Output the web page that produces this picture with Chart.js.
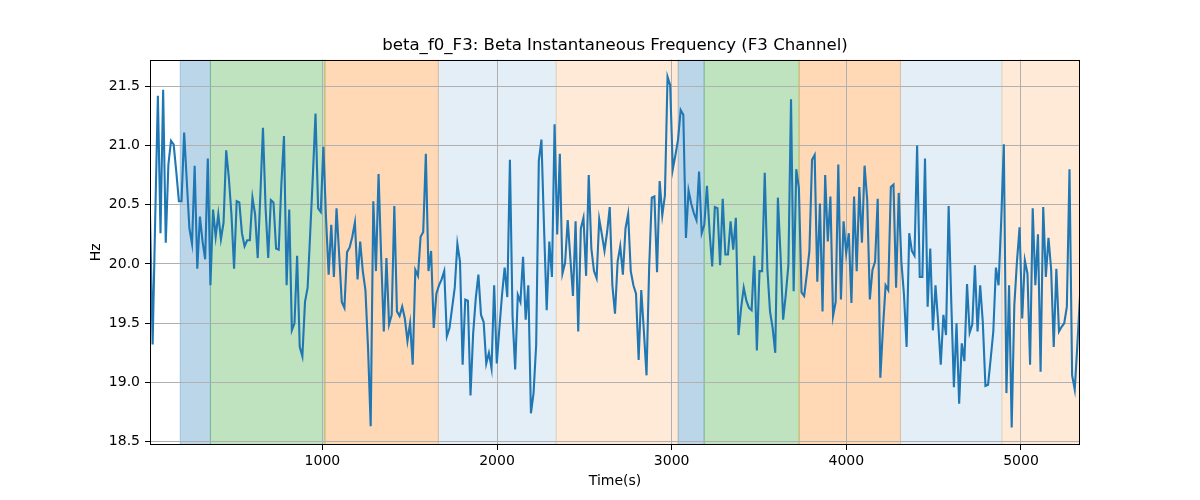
<!DOCTYPE html>
<html>
<head>
<meta charset="utf-8">
<script src="https://cdn.jsdelivr.net/npm/chart.js@4.4.1/dist/chart.umd.min.js"></script>
<style>
    html, body { margin: 0; padding: 0; background: #fff; }
    #wrap { width: 1200px; height: 500px; }
</style>
</head>
<body>
<div id="wrap"><canvas id="chart" width="1200" height="500"></canvas></div>
<script>
// ---- data ----
const tStart = 13;
const tEnd = 5338;

const hzValues = [
    20.42, 19.32, 20.40, 21.42, 20.26, 21.47, 20.18, 20.84, 21.04, 21.01, 20.78, 20.53, 20.53, 21.11, 20.70, 20.30, 20.17, 20.83,
    19.96, 20.40, 20.19, 20.04, 20.89, 19.82, 20.46, 20.23, 20.42, 20.21, 20.35, 20.96, 20.73, 20.42, 19.96, 20.53, 20.52, 20.26,
    20.15, 20.20, 20.20, 20.56, 20.42, 20.05, 20.58, 21.15, 20.47, 20.05, 20.54, 20.52, 20.13, 20.12, 20.67, 21.08, 19.82, 20.46,
    19.44, 19.50, 20.07, 19.30, 19.22, 19.68, 19.80, 20.27, 20.75, 21.27, 20.47, 20.44, 20.99, 20.39, 19.91, 20.33, 19.89, 20.47,
    20.08, 19.68, 19.63, 20.10, 20.14, 20.23, 20.35, 19.87, 20.19, 19.94, 19.78, 19.29, 18.63, 20.53, 19.94, 20.76, 20.05, 19.43,
    20.05, 19.49, 19.57, 20.49, 19.60, 19.56, 19.64, 19.54, 19.35, 19.50, 19.15, 19.95, 19.90, 20.23, 20.27, 20.93, 19.94, 20.11,
    19.46, 19.75, 19.82, 19.87, 19.94, 19.39, 19.46, 19.63, 19.80, 20.17, 20.02, 19.15, 19.70, 19.69, 18.89, 19.41, 19.71, 19.91,
    19.57, 19.51, 19.16, 19.25, 19.12, 19.82, 19.16, 19.46, 19.74, 19.97, 19.72, 20.88, 19.56, 19.11, 19.74, 19.68, 20.06, 19.53, 19.82,
    18.74, 18.91, 19.32, 20.87, 21.05, 20.30, 19.61, 20.19, 19.89, 21.18, 20.25, 20.93, 19.92, 20.01, 20.37, 20.05, 19.73, 20.36,
    19.43, 20.30, 20.39, 19.90, 20.75, 20.13, 19.94, 19.88, 20.38, 20.25, 20.11, 20.27, 20.48, 19.82, 19.58, 20.02, 20.15, 19.91,
    20.30, 20.42, 19.94, 19.82, 19.75, 19.19, 19.78, 19.43, 19.06, 19.97, 20.56, 20.57, 19.93, 20.70, 20.41, 20.58, 21.58, 21.51,
    20.80, 20.92, 21.05, 21.30, 21.26, 20.22, 20.62, 20.51, 20.43, 20.37, 20.78, 20.26, 20.33, 20.66, 20.27, 19.98, 20.48, 20.47,
    19.99, 20.55, 20.08, 20.08, 20.36, 20.12, 20.39, 19.40, 19.63, 19.80, 19.69, 19.63, 19.61, 20.07, 19.27, 19.94, 19.94, 20.77,
    19.96, 19.60, 19.46, 19.25, 20.56, 20.08, 19.53, 19.74, 19.99, 21.39, 19.77, 20.80, 20.64, 19.76, 19.73, 19.91, 20.11, 20.88,
    20.92, 19.85, 20.51, 19.60, 20.75, 20.19, 20.57, 19.56, 19.68, 20.84, 19.70, 20.36, 20.09, 20.26, 19.67, 20.57, 19.94, 20.65,
    20.18, 20.83, 20.54, 19.70, 19.95, 20.02, 20.55, 19.04, 19.46, 19.82, 19.78, 20.65, 20.67, 19.80, 20.60, 20.02, 19.74, 19.30, 20.26,
    20.11, 20.07, 21.00, 19.89, 19.89, 20.89, 19.64, 20.13, 19.44, 19.82, 19.51, 19.15, 19.57, 19.40, 20.49, 19.68, 18.96, 19.50,
    18.82, 19.33, 19.18, 19.83, 19.42, 19.49, 19.99, 19.43, 19.82, 19.51, 18.97, 18.98, 19.20, 19.43, 19.97, 19.82, 20.36, 21.01,
    18.91, 19.82, 18.62, 19.65, 20.02, 20.31, 19.54, 20.03, 19.92, 19.15, 20.47, 19.82, 20.25, 19.09, 20.48, 19.89, 20.22, 19.96,
    19.30, 19.96, 19.43, 19.47, 19.50, 19.64, 20.80, 19.06, 18.94, 19.32, 19.73
];

const xTicks = [1000, 2000, 3000, 4000, 5000];
const yTicks = [18.5, 19.0, 19.5, 20.0, 20.5, 21.0, 21.5];
const yMin = 18.472;
const yMax = 21.726;

// shaded phases (seconds)
const spanStart = [186, 359, 1015, 1664, 2339, 3037, 3186, 3730, 4310, 4891];
const spanEnd   = [359, 1015, 1664, 2339, 3037, 3186, 3730, 4310, 4891, 5338];
const spanKind  = ['blue', 'green', 'orange', 'paleBlue', 'paleOrange', 'blue', 'green', 'orange', 'paleBlue', 'paleOrange'];

// ---- styles ----
const kindColors = {
    blue: 'rgba(31,119,180,0.3)',
    green: 'rgba(44,160,44,0.3)',
    orange: 'rgba(255,127,14,0.3)',
    paleBlue: 'rgba(31,119,180,0.12)',
    paleOrange: 'rgba(255,127,14,0.16)'
};
const FONT = "'DejaVu Sans', sans-serif";

const dt = (tEnd - tStart) / (hzValues.length - 1);
const points = hzValues.map((v, i) => ({ x: tStart + i * dt, y: v }));

const spansPlugin = {
    id: 'spans',
    beforeDraw(chart) {
        const { ctx, chartArea: a, scales: { x } } = chart;
        ctx.save();
        ctx.beginPath();
        ctx.rect(a.left, a.top, a.right - a.left, a.bottom - a.top);
        ctx.clip();
        spanStart.forEach((s, i) => {
            const x0 = x.getPixelForValue(s);
            const x1 = x.getPixelForValue(spanEnd[i]);
            const c = kindColors[spanKind[i]];
            ctx.fillStyle = c;
            ctx.fillRect(x0, a.top, x1 - x0, a.bottom - a.top);
            ctx.strokeStyle = c;
            ctx.lineWidth = 1;
            ctx.beginPath();
            ctx.moveTo(x0, a.top); ctx.lineTo(x0, a.bottom);
            ctx.moveTo(x1, a.top); ctx.lineTo(x1, a.bottom);
            ctx.stroke();
        });
        ctx.restore();
    }
};

const framePlugin = {
    id: 'frame',
    afterDraw(chart) {
        const { ctx, chartArea: a } = chart;
        ctx.save();
        ctx.strokeStyle = '#000';
        ctx.lineWidth = 1;
        ctx.strokeRect(Math.round(a.left) + 0.5, Math.round(a.top) + 0.5,
            Math.round(a.right - a.left) - 1, Math.round(a.bottom - a.top) - 1);
        ctx.restore();
    }
};

new Chart(document.getElementById('chart'), {
    type: 'line',
    data: {
        datasets: [{
            data: points,
            borderColor: '#1f77b4',
            borderWidth: 2.1,
            pointRadius: 0,
            tension: 0,
            fill: false
        }]
    },
    options: {
        responsive: false,
        devicePixelRatio: 1,
        animation: false,
        layout: { padding: { left: 80, right: 120, top: 35.6, bottom: 0 } },
        scales: {
            x: {
                type: 'linear',
                min: tStart,
                max: tEnd,
                afterFit: s => { s.height = 55; },
                afterBuildTicks: s => { s.ticks = xTicks.map(v => ({ value: v })); },
                ticks: { color: '#000', font: { family: FONT, size: 14 }, padding: 3, maxRotation: 0, callback: v => String(v) },
                grid: { color: '#b0b0b0', lineWidth: 1, tickColor: '#000', tickLength: 5 },
                border: { display: false },
                title: { display: true, text: 'Time(s)', color: '#000', font: { family: FONT, size: 14 }, padding: { top: 0, bottom: 10 } }
            },
            y: {
                min: yMin,
                max: yMax,
                afterFit: s => { s.width = 70; },
                afterBuildTicks: s => { s.ticks = yTicks.map(v => ({ value: v })); },
                ticks: { color: '#000', font: { family: FONT, size: 14 }, padding: 5, callback: v => v.toFixed(1) },
                grid: { color: '#b0b0b0', lineWidth: 1, tickColor: '#000', tickLength: 5 },
                border: { display: false },
                title: { display: true, text: 'Hz', color: '#000', font: { family: FONT, size: 14 }, padding: { top: 8, bottom: 0 } }
            }
        },
        plugins: {
            legend: { display: false },
            tooltip: { enabled: false },
            title: {
                display: true,
                fullSize: false,
                text: 'beta_f0_F3: Beta Instantaneous Frequency (F3 Channel)',
                color: '#000',
                font: { family: FONT, size: 16.6, weight: 'normal' },
                padding: { top: 0, bottom: 4 }
            }
        }
    },
    plugins: [spansPlugin, framePlugin]
});
</script>
</body>
</html>
